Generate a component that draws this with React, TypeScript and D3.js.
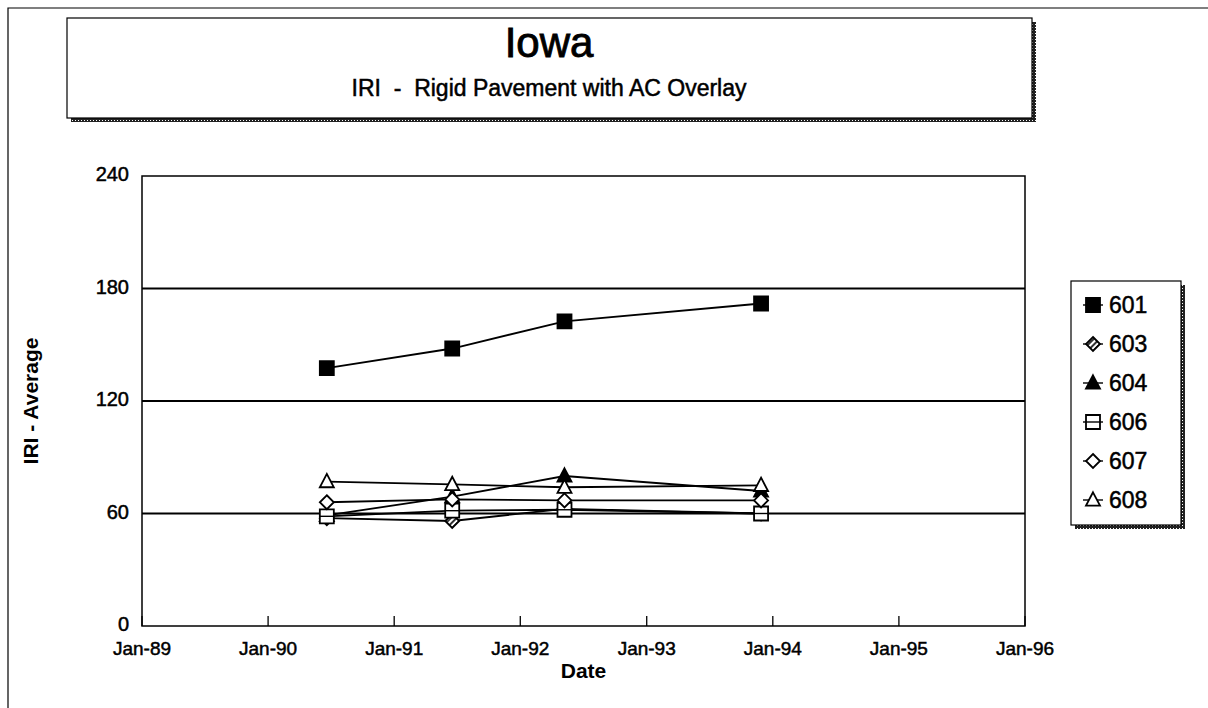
import * as d3 from 'd3';

const W = 1208;
const H = 708;

// survey dates
const dates = ['1990-06-20', '1991-06-18', '1992-05-08', '1993-11-28'].map((s) => new Date(s));

const sections = ['601', '603', '604', '606', '607', '608'];
const s601 = [137.5, 148, 162.5, 172];
const s603 = [57.5, 56, 62.5, 60];
const s604 = [59, 69, 80, 72];
const s606 = [58.5, 61.5, 62, 60];
const s607 = [66, 67.5, 67, 67];
const s608 = [77, 75.5, 74, 75];
const seriesValues = [s601, s603, s604, s606, s607, s608];

const yTicks = [0, 60, 120, 180, 240];
const xTickYears = [1989, 1990, 1991, 1992, 1993, 1994, 1995, 1996];

const font = "'Liberation Sans', Arial, sans-serif";

type Shape = 'square' | 'diamond' | 'triangle';
const markerStyle: { shape: Shape; fill: string; cross?: boolean }[] = [
  { shape: 'square', fill: '#000' },
  { shape: 'diamond', fill: 'url(#hatch)' },
  { shape: 'triangle', fill: '#000' },
  { shape: 'square', fill: '#fff', cross: true },
  { shape: 'diamond', fill: '#fff' },
  { shape: 'triangle', fill: '#fff' },
];

function markerPath(shape: Shape, r: number) {
  const p = d3.path();
  if (shape === 'square') {
    p.rect(-r, -r, 2 * r, 2 * r);
  } else if (shape === 'diamond') {
    p.moveTo(0, -r);
    p.lineTo(r, 0);
    p.lineTo(0, r);
    p.lineTo(-r, 0);
    p.closePath();
  } else {
    p.moveTo(0, -r * 1.1);
    p.lineTo(r, r * 0.8);
    p.lineTo(-r, r * 0.8);
    p.closePath();
  }
  return p.toString();
}

function Marker({ i, cx, cy }: { i: number; cx: number; cy: number }) {
  const m = markerStyle[i];
  return (
    <g transform={`translate(${cx},${cy})`}>
      <path d={markerPath(m.shape, 7)} fill={m.fill} stroke="#000" strokeWidth={1.8} />
      {m.cross && <line x1={-7} x2={7} y1={0} y2={0} stroke="#000" strokeWidth={1.4} />}
    </g>
  );
}

// scanned look: slightly heavier glyphs
const ink = { fill: '#000', stroke: '#000', strokeWidth: 0.5 };

export default function App() {
  const margin = { left: 142, right: 1025, top: 176, bottom: 626 };
  const x = d3
    .scaleTime()
    .domain([new Date(1989, 0, 1), new Date(1996, 0, 1)])
    .range([margin.left, margin.right]);
  const y = d3.scaleLinear().domain([0, 240]).range([margin.bottom, margin.top]);
  const fmt = d3.timeFormat('%b-%y');

  const line = d3
    .line<number>()
    .x((_, j) => x(dates[j]))
    .y((v) => y(v));

  const legend = { x: 1071, y: 281, w: 110, h: 244 };

  return (
    <svg width={W} height={H} style={{ position: 'absolute', left: 0, top: 0, background: '#fff' }}>
      <defs>
        <pattern id="hatch" width="4" height="4" patternUnits="userSpaceOnUse" patternTransform="rotate(45)">
          <rect width="4" height="4" fill="#fff" />
          <rect width="2" height="4" fill="#333" />
        </pattern>
        <pattern id="shadow" width="3" height="3" patternUnits="userSpaceOnUse">
          <rect width="3" height="3" fill="#222" />
          <rect width="1" height="1" fill="#fff" />
        </pattern>
      </defs>

      {/* outer frame */}
      <path d={`M8,${H} V8 H${W}`} fill="none" stroke="#000" strokeWidth={1.2} />

      {/* title box */}
      <rect x={71} y={22} width={965} height={100} fill="url(#shadow)" />
      <rect x={67} y={18} width={965} height={100} fill="#fff" stroke="#000" strokeWidth={1.2} />
      <text x={549} y={57} textAnchor="middle" fontFamily={font} fontSize={42} {...ink} strokeWidth={0.9}>
        Iowa
      </text>
      <text x={549} y={96} textAnchor="middle" fontFamily={font} fontSize={23} {...ink} xmlSpace="preserve">
        IRI  -  Rigid Pavement with AC Overlay
      </text>

      {/* gridlines */}
      {yTicks
        .filter((t) => t > 0 && t < 240)
        .map((t) => (
          <line key={t} x1={margin.left} x2={margin.right} y1={y(t)} y2={y(t)} stroke="#000" strokeWidth={1.8} />
        ))}

      {/* plot border */}
      <rect
        x={margin.left}
        y={margin.top}
        width={margin.right - margin.left}
        height={margin.bottom - margin.top}
        fill="none"
        stroke="#000"
        strokeWidth={1.5}
      />

      {/* y ticks */}
      {yTicks.map((t) => (
        <text key={t} x={margin.left - 13} y={y(t) + 5} textAnchor="end" fontFamily={font} fontSize={20} {...ink}>
          {t}
        </text>
      ))}

      {/* x ticks */}
      {xTickYears.map((yr) => {
        const d = new Date(yr, 0, 1);
        return (
          <g key={yr}>
            <line x1={x(d)} x2={x(d)} y1={margin.bottom} y2={margin.bottom - 10} stroke="#000" strokeWidth={1.3} />
            <text x={x(d)} y={margin.bottom + 29} textAnchor="middle" fontFamily={font} fontSize={19} {...ink}>
              {fmt(d)}
            </text>
          </g>
        );
      })}

      <text
        x={(margin.left + margin.right) / 2}
        y={margin.bottom + 52}
        textAnchor="middle"
        fontFamily={font}
        fontSize={21}
        fontWeight="bold"
      >
        Date
      </text>
      <text
        transform={`translate(38,${(margin.top + margin.bottom) / 2}) rotate(-90)`}
        textAnchor="middle"
        fontFamily={font}
        fontSize={21}
        fontWeight="bold"
      >
        IRI - Average
      </text>

      {/* series */}
      {seriesValues.map((vals, i) => (
        <path key={`l${i}`} d={line(vals) ?? ''} fill="none" stroke="#000" strokeWidth={1.8} />
      ))}
      {seriesValues.map((vals, i) =>
        vals.map((v, j) => <Marker key={`m${i}-${j}`} i={i} cx={x(dates[j])} cy={y(v)} />),
      )}

      {/* legend */}
      <rect x={legend.x + 4} y={legend.y + 4} width={legend.w} height={legend.h} fill="url(#shadow)" />
      <rect x={legend.x} y={legend.y} width={legend.w} height={legend.h} fill="#fff" stroke="#000" strokeWidth={1.2} />
      {sections.map((s, i) => {
        const cy = legend.y + 24 + i * 39;
        return (
          <g key={s}>
            <line x1={legend.x + 12} x2={legend.x + 32} y1={cy} y2={cy} stroke="#000" strokeWidth={1.4} />
            <Marker i={i} cx={legend.x + 22} cy={cy} />
            <text x={legend.x + 38} y={cy + 8} fontFamily={font} fontSize={23} {...ink}>
              {s}
            </text>
          </g>
        );
      })}
    </svg>
  );
}
